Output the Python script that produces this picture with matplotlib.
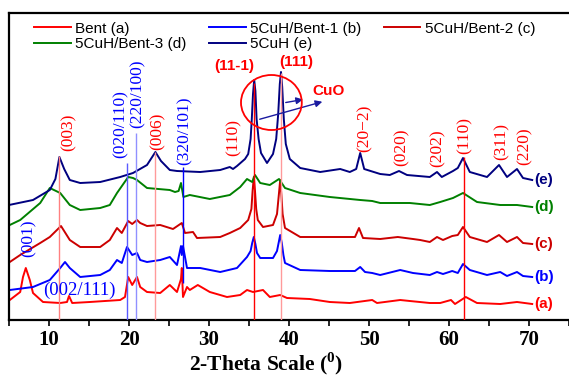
import matplotlib
matplotlib.use('Agg')
import matplotlib.pyplot as plt
from matplotlib.patches import Ellipse

# XRD patterns (2-theta in degrees, intensity in arbitrary offset units)
a_x = [5.1, 6.4, 6.75, 7.1, 7.6, 8.0, 9.25, 11.4, 12.25, 12.5, 12.9, 15.1, 18.9, 19.5, 19.9, 20.4, 21.0, 21.4,
       22.25, 23.9, 25.1, 26.0, 26.5, 26.6, 26.75, 27.25, 27.6, 28.6, 30.1, 32.25, 33.9, 34.75, 35.5, 36.75, 37.6,
       38.9, 39.75, 42.6, 45.1, 47.6, 50.4, 51.0, 53.9, 55.1, 57.6, 58.9, 60.25, 60.75, 62.1, 63.5, 66.4, 68.5, 70.4]
a_y = [19, 27, 42, 51, 39, 26, 17, 16, 17, 23, 16, 17, 19, 22, 42, 34, 42, 32,
       27, 26, 34, 27, 40, 51, 22, 32, 29, 34, 27, 22, 24, 29, 27, 29, 22,
       24, 21, 20, 17, 16, 19, 16, 19, 18, 16, 16, 19, 15, 22, 16, 15, 17, 15]

b_x = [5.1, 8.0, 10.1, 11.4, 12.0, 12.6, 13.9, 16.4, 17.6, 18.5, 19.1, 19.75, 20.4, 21.0, 21.4, 22.25, 23.9, 25.1,
       26.0, 26.5, 26.6, 26.75, 27.25, 28.9, 31.4, 33.5, 34.75, 35.2, 35.4, 35.6, 35.8, 36.0, 36.4, 38.0, 38.5,
       38.7, 38.9, 39.1, 39.3, 39.5, 41.4, 45.1, 48.25, 48.9, 49.5, 50.4, 51.4, 53.9, 55.5, 57.6, 58.5, 59.25,
       60.4, 61.1, 61.75, 62.6, 64.75, 66.4, 67.25, 68.5, 69.25, 70.4]
b_y = [29, 32, 39, 51, 57, 51, 42, 44, 49, 59, 56, 72, 64, 66, 59, 57, 59, 62,
       54, 73, 64, 73, 51, 51, 47, 51, 62, 68, 76, 82, 75, 66, 61, 61, 68,
       76, 84, 76, 64, 56, 49, 48, 48, 52, 47, 46, 44, 49, 46, 44, 47, 45,
       48, 46, 55, 49, 44, 47, 43, 47, 43, 42]

c_x = [5.1, 6.4, 8.9, 10.1, 11.5, 12.6, 13.9, 16.4, 17.6, 18.5, 19.1, 19.9, 20.4, 21.0, 21.4, 22.25, 23.9, 25.5,
       26.6, 27.0, 28.0, 28.5, 31.4, 32.6, 33.9, 34.9, 35.3, 35.45, 35.6, 35.75, 35.9, 36.1, 36.75, 38.0, 38.5,
       38.75, 38.9, 39.05, 39.2, 39.5, 41.4, 45.1, 48.25, 48.75, 49.25, 51.4, 53.6, 55.5, 56.4, 57.6, 58.5, 59.25,
       60.4, 61.1, 61.75, 62.6, 64.75, 66.25, 67.25, 68.5, 69.25, 70.4]
c_y = [57, 64, 76, 82, 93, 79, 72, 72, 79, 91, 86, 98, 95, 99, 96, 93, 94, 90,
       96, 86, 87, 81, 82, 86, 91, 99, 110, 128, 142, 128, 110, 99, 92, 94, 105,
       126, 139, 124, 105, 91, 82, 82, 82, 91, 81, 80, 82, 80, 79, 77, 82, 79,
       83, 84, 92, 82, 77, 84, 77, 82, 76, 75]

d_x = [5.1, 6.4, 8.9, 10.1, 11.4, 12.6, 13.9, 16.4, 17.6, 18.5, 19.9, 20.5, 21.0, 22.25, 25.1, 25.75, 26.2, 26.5,
       26.8, 27.6, 30.1, 32.6, 33.9, 34.75, 35.4, 35.75, 36.4, 37.6, 38.75, 39.5, 41.4, 45.1, 48.9, 50.4, 51.4,
       55.1, 57.6, 58.9, 60.5, 61.75, 63.5, 66.4, 68.5, 70.4]
d_y = [94, 99, 116, 131, 126, 114, 109, 111, 114, 126, 142, 141, 139, 131, 129, 127, 128, 136,
       122, 124, 120, 124, 132, 140, 137, 144, 136, 134, 140, 131, 126, 122, 119, 118, 116,
       116, 114, 117, 121, 126, 117, 114, 114, 112]

e_x = [5.0, 8.0, 10.1, 10.8, 11.3, 11.9, 12.6, 13.9, 16.4, 18.9, 20.5, 22.25, 23.3, 24.0, 25.1, 26.0, 28.9, 31.4,
       32.6, 33.0, 33.5, 34.5, 34.9, 35.2, 35.35, 35.5, 35.65, 35.8, 35.95, 36.2, 36.5, 37.25, 38.0, 38.4, 38.65,
       38.85, 39.0, 39.15, 39.35, 39.6, 40.1, 41.4, 43.9, 46.4, 47.6, 48.4, 48.9, 49.4, 51.4, 52.6, 53.75, 54.75,
       57.6, 58.5, 59.1, 60.5, 61.1, 61.75, 62.6, 64.75, 66.25, 67.25, 68.5, 69.25, 70.4]
e_y = [114, 119, 129, 140, 162, 150, 139, 136, 137, 142, 146, 154, 167, 158, 149, 148, 147, 149,
       152, 150, 153, 160, 165, 180, 200, 225, 239, 228, 200, 180, 166, 156, 165, 180, 205,
       235, 247, 232, 200, 175, 160, 151, 147, 150, 147, 150, 166, 150, 145, 144, 148, 144,
       142, 147, 142, 148, 151, 161, 147, 142, 154, 142, 150, 141, 139]

series_names = ['Bent (a)', '5CuH/Bent-1 (b)', '5CuH/Bent-2 (c)', '5CuH/Bent-3 (d)', '5CuH (e)']
series_tags = ['(a)', '(b)', '(c)', '(d)', '(e)']
series_colors = ['#ff0000', '#0000ff', '#cc0000', '#008000', '#000080']

# reference lines (position, top, bottom)
ref_x = [11.25, 19.8, 20.9, 23.3, 26.8, 35.6, 39.0, 61.9]
ref_top = [163, 156, 186, 167, 152, 236, 246, 162]
ref_bottom = [-1, -1, -1, -1, 36, -1, -1, -1]
ref_colors = ['#ff8080', '#5a5aff', '#9090ff', '#ff9a9a', '#0000ff', '#ff0000', '#ff9a9a', '#ff0000']

# plane labels
hkl_text = ['(001)', '(003)', '(020/110)', '(220/100)', '(006)', '(320/101)', '(110)',
            '(20\u22122)', '(020)', '(202)', '(110)', '(311)', '(220)']
hkl_x = [7.4, 12.4, 19.0, 21.1, 23.6, 27.0, 33.1, 49.4, 54.1, 58.6, 62.0, 66.6, 69.5]
hkl_y = [81, 187, 195, 225, 188, 188, 181, 191, 172, 171, 184, 178, 173]
hkl_colors = ['blue', 'red', 'blue', 'blue', 'red', 'blue', 'red', 'red', 'red', 'red', 'red', 'red', 'red']

plt.rcParams['mathtext.fontset'] = 'custom'
plt.rcParams['mathtext.rm'] = 'Liberation Serif:bold'
plt.rcParams['mathtext.bf'] = 'Liberation Serif:bold'

fig = plt.figure(figsize=(5.69, 3.78), dpi=100)
ax = fig.add_axes([9 / 569, 58 / 378, 560 / 569, 307 / 378])

xs = [a_x, b_x, c_x, d_x, e_x]
ys = [a_y, b_y, c_y, d_y, e_y]
lines = []
for i in range(5):
    ln, = ax.plot(xs[i], ys[i], color=series_colors[i], lw=1.4, label=series_names[i], zorder=2)
    lines.append(ln)
    ax.text(70.7, ys[i][-1], series_tags[i], color=series_colors[i], fontsize=11, fontweight='bold',
            family='Liberation Sans', ha='left', va='center')

for i in range(len(ref_x)):
    ax.vlines(ref_x[i], ref_bottom[i], ref_top[i], colors=ref_colors[i], lw=1.0, zorder=3)

for i in range(len(hkl_text)):
    ax.text(hkl_x[i], hkl_y[i], hkl_text[i], color=hkl_colors[i], rotation=90, fontsize=12.5,
            family=['Liberation Serif', 'DejaVu Serif'], ha='center', va='center')
ax.text(13.75, 29, '(002/111)', color='blue', fontsize=13.5, family='Liberation Serif',
        ha='center', va='center')

# CuO callout
for t, x, y in [('(11-1)', 33.1, 253), ('(111)', 40.9, 257), ('CuO', 45.0, 228)]:
    ax.text(x, y, t, color='red', fontsize=11, fontweight='bold', family='Liberation Sans',
            ha='center', va='center')
ax.add_patch(Ellipse((37.8, 216.5), 7.6, 55, fill=False, edgecolor='red', lw=1.3, zorder=4))
ax.annotate('', xy=(44.5, 218), xytext=(36.0, 199),
            arrowprops=dict(arrowstyle='-|>', color='#1a1aa0', lw=1.0))
ax.annotate('', xy=(42.1, 220), xytext=(39.25, 216),
            arrowprops=dict(arrowstyle='-|>', color='#1a1aa0', lw=1.0))

handles = [lines[0], lines[3], lines[1], lines[4], lines[2]]
ax.legend(handles=handles, labels=[h.get_label() for h in handles], ncol=3, frameon=False,
          loc='upper left', bbox_to_anchor=(0.045, 0.972), borderaxespad=0, borderpad=0,
          handlelength=2.4, handletextpad=0.3, columnspacing=1.45, labelspacing=0.1,
          prop={'family': 'Liberation Sans', 'size': 11})

ax.set_xlim(5, 75)
ax.set_ylim(-1, 306)
ax.set_yticks([])
ax.set_xticks(range(10, 71, 10))
ax.set_xticks(range(5, 76, 10), minor=True)
ax.tick_params(axis='x', which='both', direction='out', length=4, width=1.2, pad=3)
for lab in ax.get_xticklabels():
    lab.set_family('Liberation Serif')
    lab.set_fontweight('bold')
    lab.set_fontsize(15)
ax.spines['right'].set_visible(False)
for s in ['left', 'top', 'bottom']:
    ax.spines[s].set_linewidth(1.6)

fig.text(266 / 569, 1 - 364 / 378, r'2-Theta Scale ($^{\mathbf{0}}$)', fontsize=15.5,
         family='Liberation Serif', fontweight='bold', ha='center', va='center')

fig.savefig('out.png', dpi=100)
